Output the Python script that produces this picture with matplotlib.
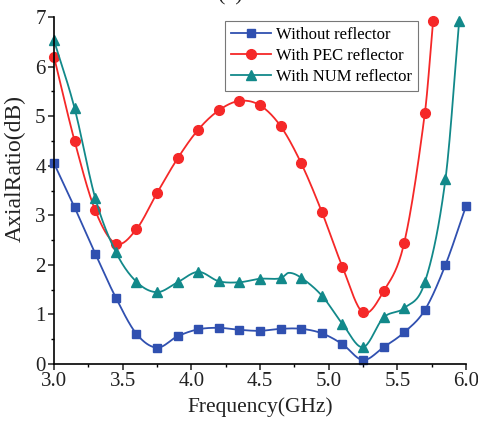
import numpy as np
import matplotlib
matplotlib.use('Agg')
import matplotlib.pyplot as plt
from matplotlib.ticker import MultipleLocator

plt.rcParams['font.family'] = ['Liberation Serif', 'DejaVu Serif']
plt.rcParams['mathtext.fontset'] = 'stix'

# Axial ratio (GHz, dB)
freq = [3.0, 3.15, 3.3, 3.45, 3.6, 3.75, 3.9, 4.05, 4.2, 4.35, 4.5,
        4.65, 4.8, 4.95, 5.1, 5.25, 5.4, 5.55, 5.7, 5.85, 6.0]
ar_none = [4.05, 3.16, 2.23, 1.34, 0.61, 0.33, 0.56, 0.70, 0.73, 0.69, 0.67,
           0.71, 0.71, 0.62, 0.40, 0.08, 0.34, 0.64, 1.09, 2.00, 3.19]

freq_pec = [3.0, 3.15, 3.3, 3.45, 3.6, 3.75, 3.9, 4.05, 4.2, 4.35, 4.5,
            4.65, 4.8, 4.95, 5.1, 5.25, 5.4, 5.55, 5.7, 5.76]
ar_pec = [6.20, 4.50, 3.10, 2.43, 2.72, 3.45, 4.15, 4.73, 5.12, 5.31, 5.22,
          4.80, 4.05, 3.07, 1.96, 1.04, 1.47, 2.45, 5.06, 6.92]

# the NUM curve has a small bump near 4.71 GHz with no marker on it
freq_num = [3.0, 3.15, 3.3, 3.45, 3.6, 3.75, 3.9, 4.05, 4.2, 4.35, 4.5,
            4.65, 4.71, 4.8, 4.95, 5.1, 5.25, 5.4, 5.55, 5.7, 5.85, 5.95]
ar_num = [6.53, 5.16, 3.35, 2.26, 1.66, 1.45, 1.65, 1.86, 1.67, 1.65, 1.72,
          1.73, 1.84, 1.74, 1.38, 0.81, 0.34, 0.94, 1.13, 1.65, 3.73, 6.92]
num_marks = [i for i in range(len(freq_num)) if i != 12]


def spline(x, y, n=20):
    # cubic hermite curve through the points (drawing style only)
    x = np.asarray(x, float)
    y = np.asarray(y, float)
    m = np.zeros_like(y)
    m[1:-1] = (y[2:] - y[:-2]) / (x[2:] - x[:-2])
    m[0] = (y[1] - y[0]) / (x[1] - x[0])
    m[-1] = (y[-1] - y[-2]) / (x[-1] - x[-2])
    xs, ys = [], []
    for i in range(len(x) - 1):
        h = x[i + 1] - x[i]
        t = np.linspace(0, 1, n, endpoint=False)
        h00 = 2 * t**3 - 3 * t**2 + 1
        h10 = t**3 - 2 * t**2 + t
        h01 = -2 * t**3 + 3 * t**2
        h11 = t**3 - t**2
        xs.append(x[i] + t * h)
        ys.append(h00 * y[i] + h10 * h * m[i] + h01 * y[i + 1] + h11 * h * m[i + 1])
    xs.append([x[-1]])
    ys.append([y[-1]])
    return np.concatenate(xs), np.concatenate(ys)


fig = plt.figure(figsize=(4.78, 4.29), dpi=100)
ax = fig.add_axes([0.113, 0.1515, 0.862, 0.8085])

c_blue = '#3050B0'
c_red = '#F52828'
c_teal = '#12898A'

series = [
    (freq, ar_none, None, c_blue, 's', 6, 'Without reflector'),
    (freq_pec, ar_pec, None, c_red, 'o', 7, 'With PEC reflector'),
    (freq_num, ar_num, num_marks, c_teal, '^', 7.5, 'With NUM reflector'),
]
for x, y, marks, col, mk, ms, lab in series:
    sx, sy = spline(x, y)
    ax.plot(sx, sy, color=col, lw=1.3, clip_on=False)
    xm = np.asarray(x) if marks is None else np.asarray(x)[marks]
    ym = np.asarray(y) if marks is None else np.asarray(y)[marks]
    ax.plot(xm, ym, ls='none', marker=mk, ms=ms, color=col, clip_on=False)
    ax.plot([], [], color=col, lw=1.3, marker=mk, ms=ms, label=lab)

ax.set_xlim(3.0, 6.0)
ax.set_ylim(0, 7)
ax.xaxis.set_major_locator(MultipleLocator(0.5))
ax.xaxis.set_minor_locator(MultipleLocator(0.25))
ax.yaxis.set_major_locator(MultipleLocator(1))
ax.yaxis.set_minor_locator(MultipleLocator(0.5))
ax.xaxis.set_major_formatter(matplotlib.ticker.FormatStrFormatter('%.1f'))

ax.spines['top'].set_visible(False)
ax.spines['right'].set_visible(False)
for s in ['left', 'bottom']:
    ax.spines[s].set_linewidth(1.2)
ax.tick_params(which='major', direction='out', length=4, width=1.1,
               labelsize=15, colors='#222222', pad=2)
ax.tick_params(which='minor', direction='out', length=2.5, width=1.0)

ax.set_xlabel('Frequency(GHz)', fontsize=15.5, color='#222222', labelpad=4)
ax.set_ylabel('AxialRatio(dB)', fontsize=17, color='#222222')
ax.yaxis.set_label_coords(-0.068, 0.565)

leg = ax.legend(loc='upper left', bbox_to_anchor=(0.415, 0.988), fontsize=12,
                frameon=True, fancybox=False, borderpad=0.35, labelspacing=0.3,
                handlelength=2.4, handletextpad=0.3, borderaxespad=0)
leg.get_frame().set_edgecolor('#555555')
leg.get_frame().set_linewidth(0.8)

# panel title, mostly above the top edge as in the source image
fig.text(0.483, 1.0, '(a)', fontsize=16, ha='center', va='baseline',
         color='#222222')

fig.savefig('out.png', dpi=100)
